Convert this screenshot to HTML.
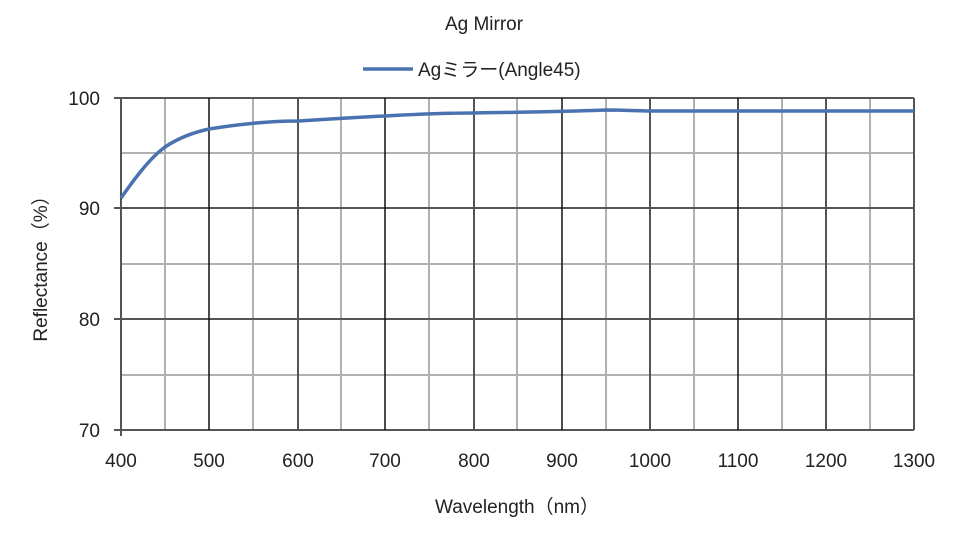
<!DOCTYPE html>
<html><head><meta charset="utf-8"><style>body{margin:0;background:#fff}</style></head><body>
<svg width="960" height="540" xmlns="http://www.w3.org/2000/svg" font-family="Liberation Sans, Noto Sans CJK JP, sans-serif">
<rect width="960" height="540" fill="#fff"/>
<g stroke="#b0b0b0" stroke-width="2">
<line x1="165" y1="98" x2="165" y2="430"/><line x1="253" y1="98" x2="253" y2="430"/><line x1="341" y1="98" x2="341" y2="430"/><line x1="429" y1="98" x2="429" y2="430"/><line x1="517" y1="98" x2="517" y2="430"/><line x1="606" y1="98" x2="606" y2="430"/><line x1="694" y1="98" x2="694" y2="430"/><line x1="782" y1="98" x2="782" y2="430"/><line x1="870" y1="98" x2="870" y2="430"/>
<line x1="121" y1="153" x2="914" y2="153"/><line x1="121" y1="264" x2="914" y2="264"/><line x1="121" y1="375" x2="914" y2="375"/>
</g>
<g stroke="#555" stroke-width="2">
<line x1="298" y1="98" x2="298" y2="430"/><line x1="474" y1="98" x2="474" y2="430"/><line x1="650" y1="98" x2="650" y2="430"/><line x1="826" y1="98" x2="826" y2="430"/><line x1="914" y1="98" x2="914" y2="430"/>
<line x1="114" y1="98" x2="914" y2="98"/><line x1="114" y1="208" x2="914" y2="208"/><line x1="114" y1="319" x2="914" y2="319"/><line x1="114" y1="430" x2="914" y2="430"/>
<line x1="121" y1="98" x2="121" y2="436"/>
</g>
<g stroke="#111" stroke-width="1.5">
<line x1="209" y1="98" x2="209" y2="430"/><line x1="385" y1="98" x2="385" y2="430"/><line x1="562" y1="98" x2="562" y2="430"/><line x1="738" y1="98" x2="738" y2="430"/>
</g>
<path d="M121,198 C135,178 150,158 165,147 C180,137 195,132 209,129 C240,124 270,121 298,121 C330,119 360,117 385,116 C420,114 450,113 474,113 C540,112 580,111 606,110 C625,110 640,111 650,111 L914,111" fill="none" stroke="#4a72b0" stroke-width="3.5"/>
<g font-size="19" fill="#222" text-anchor="end">
<text x="100" y="105">100</text><text x="100" y="215">90</text><text x="100" y="326">80</text><text x="100" y="437">70</text>
</g>
<g font-size="19" fill="#222" text-anchor="middle">
<text x="121" y="467">400</text><text x="209" y="467">500</text><text x="298" y="467">600</text><text x="385" y="467">700</text><text x="474" y="467">800</text><text x="562" y="467">900</text><text x="650" y="467">1000</text><text x="738" y="467">1100</text><text x="826" y="467">1200</text><text x="914" y="467">1300</text>
<text x="517" y="513" font-size="19">Wavelength（nm）</text>
<text x="484" y="30" font-size="19">Ag Mirror</text>
</g>
<text transform="translate(47,264) rotate(-90)" font-size="19" fill="#222" text-anchor="middle">Reflectance（%）</text>
<line x1="363" y1="69" x2="413" y2="69" stroke="#4a72b0" stroke-width="3.5"/>
<text x="418" y="76" font-size="19" fill="#222">Agミラー(Angle45)</text>
</svg>
</body></html>
